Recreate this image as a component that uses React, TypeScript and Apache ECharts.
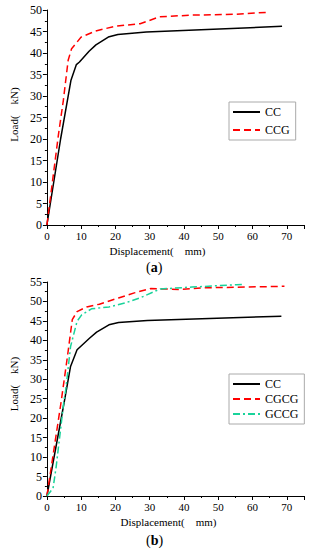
import React, { useEffect, useRef } from "react";
import * as echarts from "echarts";

// Chart (a)
const ccX = [0, 4, 7, 8.6, 9.5, 12.3, 14.3, 17.9, 20.7, 29, 68.6];
const ccY = [0, 20, 33.6, 37.3, 37.9, 40.4, 41.9, 43.7, 44.3, 44.9, 46.2];
const ccgX = [0, 3.4, 4.8, 6.2, 7.2, 10, 14.2, 19.7, 27.2, 32.8, 42, 55, 64.9];
const ccgY = [0, 21.2, 29, 38.3, 41, 43.7, 45.1, 46.2, 46.8, 48.4, 48.8, 49, 49.5];

// Chart (b)
const cc2X = [0, 5.0, 6.9, 8.8, 12.5, 14.5, 18.1, 20.9, 29.3, 68.4];
const cc2Y = [0, 23.9, 33.3, 37.6, 40.6, 42.1, 44, 44.6, 45.1, 46.2];
const cgcgX = [0, 4.1, 6.0, 7.4, 8.8, 11.6, 15.3, 20.9, 25.5, 30.2, 38.6, 46, 69.3];
const cgcgY = [0, 23.9, 35.9, 45.3, 47.4, 48.6, 49.3, 50.9, 52.2, 53.3, 53.1, 53.5, 53.9];
const gccgX = [0, 1.8, 2.7, 5.0, 5.5, 6.9, 8.8, 10.2, 13, 18.1, 22.8, 27.4, 33, 42.3, 55.3, 57.2];
const gccgY = [0, 2, 7.5, 24.7, 27.3, 38.4, 44.9, 46.6, 48.1, 48.6, 49.6, 51, 53.2, 53.7, 54.3, 54.4];

const xName = "Displacement(    mm)";
const yName = "Load(    kN)";

const zip = (xs: number[], ys: number[]) => xs.map((x, i) => [x, ys[i]]);

const FONT = "Liberation Serif";

export default function App() {
  const ref = useRef<HTMLDivElement>(null);
  useEffect(() => {
    const chart = echarts.init(ref.current!, undefined, { renderer: "svg" });
    const axisCommon = {
      axisLine: { show: true, lineStyle: { color: "#000", width: 1 } },
      axisTick: { show: true, inside: false, length: 4, lineStyle: { color: "#000" } },
      minorTick: { show: true, splitNumber: 2, length: 2, lineStyle: { color: "#000" } },
      splitLine: { show: false },
      nameTextStyle: { color: "#000", fontFamily: FONT, fontSize: 11 },
    };
    const xAxis = (gi: number, pad: number) => ({
      type: "value",
      gridIndex: gi,
      min: 0,
      max: 75,
      interval: 10,
      name: xName,
      nameLocation: "middle",
      nameGap: 20,
      ...axisCommon,
      axisLabel: { color: "#000", fontFamily: FONT, fontSize: 11, margin: 5, showMaxLabel: false },
      nameTextStyle: { ...axisCommon.nameTextStyle, padding: [0, pad, 0, 0] },
    });
    const yAxis = (gi: number, max: number, pad: number) => ({
      type: "value",
      gridIndex: gi,
      min: 0,
      max,
      interval: 5,
      name: yName,
      nameLocation: "middle",
      nameGap: 23,
      ...axisCommon,
      axisLabel: { color: "#000", fontFamily: FONT, fontSize: 12, margin: 5 },
      nameTextStyle: { ...axisCommon.nameTextStyle, padding: [0, 0, 0, pad] },
    });
    const lineSeries = (name: string, data: number[][], gi: number, color: string, type: any) => ({
      type: "line",
      name,
      xAxisIndex: gi,
      yAxisIndex: gi,
      data,
      showSymbol: false,
      symbol: "none",
      lineStyle: { color, width: 1.5, type },
      itemStyle: { color },
    });
    const legend = (top: number, data: string[], gap: number) => ({
      orient: "vertical",
      left: 229,
      top,
      data,
      itemWidth: 27,
      itemHeight: 10,
      itemGap: gap,
      padding: [4, 6, 4, 3],
      borderColor: "#aaa",
      borderWidth: 1,
      itemStyle: { opacity: 0 },
      textStyle: { color: "#000", fontFamily: FONT, fontSize: 12 },
    });
    chart.setOption({
      animation: false,
      backgroundColor: "#fff",
      grid: [
        { left: 36, top: 10, width: 268, height: 215 },
        { left: 35, top: 282, width: 269, height: 214 },
      ],
      xAxis: [xAxis(0, 36), xAxis(1, 14)],
      yAxis: [yAxis(0, 50, 6), yAxis(1, 55, 10)],
      legend: [legend(102, ["CC", "CCG"], 6), legend(374, ["CC ", "CGCG", "GCCG"], 3)],
      graphic: [
        {
          type: "text",
          left: 146,
          top: 260,
          style: {
            text: "({b|a})",
            font: `14px ${FONT}`,
            fill: "#000",
            rich: { b: { fontFamily: FONT, fontSize: 14, fontWeight: "bold", fill: "#000" } },
          },
        },
        {
          type: "text",
          left: 146,
          top: 533,
          style: {
            text: "({b|b})",
            font: `14px ${FONT}`,
            fill: "#000",
            rich: { b: { fontFamily: FONT, fontSize: 14, fontWeight: "bold", fill: "#000" } },
          },
        },
      ],
      series: [
        lineSeries("CC", zip(ccX, ccY), 0, "#000", "solid"),
        lineSeries("CCG", zip(ccgX, ccgY), 0, "#ff0000", [7, 4]),
        lineSeries("CC ", zip(cc2X, cc2Y), 1, "#000", "solid"),
        lineSeries("CGCG", zip(cgcgX, cgcgY), 1, "#ff0000", [7, 4]),
        lineSeries("GCCG", zip(gccgX, gccgY), 1, "#19d39a", [7, 3, 2, 3]),
      ],
    });
    return () => chart.dispose();
  }, []);
  return (
    <div
      ref={ref}
      style={{ position: "fixed", left: 0, top: 0, width: 309, height: 550, background: "#fff" }}
    />
  );
}
